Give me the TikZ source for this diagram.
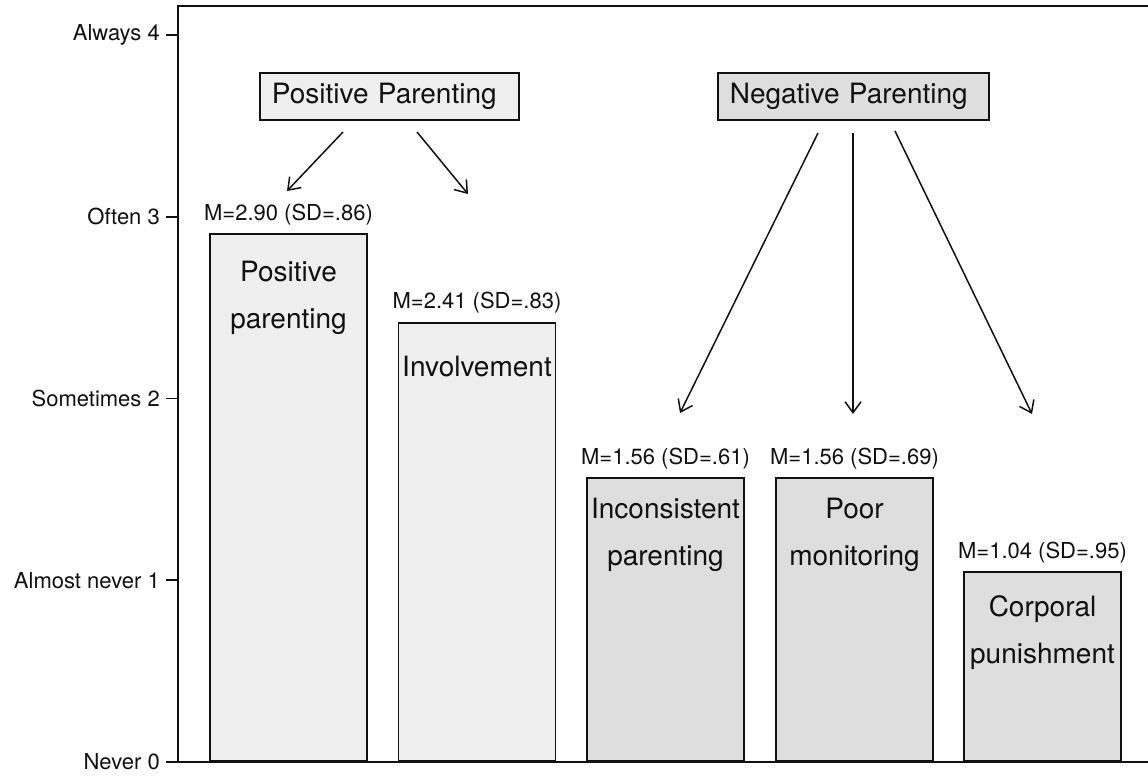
\documentclass[tikz,border=0pt]{standalone}
\usepackage{fontspec}
\setmainfont{TeX Gyre Heros}
\usetikzlibrary{arrows.meta}
\definecolor{lightg}{HTML}{EFEFEF}
\definecolor{darkg}{HTML}{DEDEDE}
\definecolor{ink}{HTML}{111111}
\tikzset{
  frame/.style={draw=ink, line width=1.7pt},
  bar/.style={draw=ink, line width=1.7pt, minimum width=157pt, inner sep=0pt, anchor=south},
  lab/.style={font=\fontsize{22}{26}\selectfont, text=ink, inner sep=0pt},
  ticklab/.style={font=\fontsize{22}{26}\selectfont, text=ink, inner sep=0pt, anchor=east},
  barname/.style={font=\fontsize{28}{47}\selectfont, text=ink, align=center, inner sep=0pt},
  grp/.style={draw=ink, line width=1.7pt, font=\fontsize{28}{34}\selectfont, text=ink, align=left, inner xsep=12pt, minimum height=47pt, anchor=north west},
  arr/.style={draw=ink, line width=1.5pt, -{Straight Barb[length=11pt, width=16pt, line width=1.5pt]}},
}
\begin{document}
\begin{tikzpicture}[x=1pt, y=-1pt]
\useasboundingbox (0,0) rectangle (1148,778);
% frame / axis
\draw[frame] (1148,6) -- (178,6) -- (178,762) -- (1148,762);
% ticks and labels
\foreach \v/\t [count=\i] in {4/Always 4, 3/Often 3, 2/Sometimes 2, 1/Almost never 1, 0/Never 0}{
  \pgfmathsetmacro{\yy}{762-\v*181.75}
  \draw[frame] (166,\yy) -- (178,\yy);
  \node[ticklab] (t\i) at (160,\yy) {\t};
}
% bars
\node[bar, fill=lightg, minimum height=527.1pt] (b1) at (288.5,762) {};
\node[bar, fill=lightg, minimum height=438.0pt] (b2) at (477,762) {};
\node[bar, fill=darkg, minimum height=283.5pt] (b3) at (665.5,762) {};
\node[bar, fill=darkg, minimum height=283.5pt] (b4) at (854.5,762) {};
\node[bar, fill=darkg, minimum height=189.0pt] (b5) at (1042.5,762) {};
% value labels
\node[lab] (m1) at (288.5,215) {M=2.90 (SD=.86)};
\node[lab] (m2) at (477,303) {M=2.41 (SD=.83)};
\node[lab] (m3) at (665.5,459) {M=1.56 (SD=.61)};
\node[lab] (m4) at (854.5,459) {M=1.56 (SD=.69)};
\node[lab] (m5) at (1042.5,553) {M=1.04 (SD=.95)};
% bar names
\node[barname] (n1) at (288.5,298) {Positive\\parenting};
\node[barname] (n2) at (477,367) {Involvement};
\node[barname] (n3) at (665.5,535) {Inconsistent\\parenting};
\node[barname] (n4) at (854.5,535) {Poor\\monitoring};
\node[barname] (n5) at (1042.5,633) {Corporal\\punishment};
% group boxes
\node[grp, fill=lightg, text width=235pt] (pp) at (259,72) {Positive Parenting};
\node[grp, fill=darkg, text width=247pt] (np) at (717,72) {Negative Parenting};
% arrows
\coordinate (p1s) at (343,132); \coordinate (p1e) at (287,191);
\coordinate (p2s) at (417,132); \coordinate (p2e) at (468,194);
\coordinate (q1s) at (818,133); \coordinate (q1e) at (680,413);
\coordinate (q2s) at (853,133); \coordinate (q2e) at (853,414);
\coordinate (q3s) at (895,131); \coordinate (q3e) at (1032,414);
\draw[arr] (p1s) -- (p1e);
\draw[arr] (p2s) -- (p2e);
\draw[arr] (q1s) -- (q1e);
\draw[arr] (q2s) -- (q2e);
\draw[arr] (q3s) -- (q3e);
\end{tikzpicture}
\end{document}
